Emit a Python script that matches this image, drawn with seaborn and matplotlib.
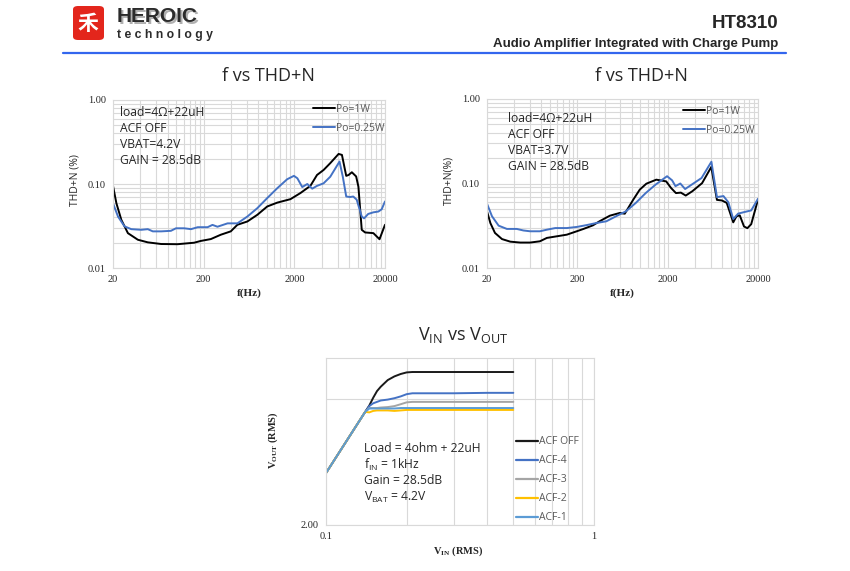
import matplotlib
matplotlib.use("Agg")
import numpy as np
import pandas as pd
import matplotlib.pyplot as plt
from matplotlib.lines import Line2D
from matplotlib.patches import FancyBboxPatch
from matplotlib.ticker import FixedLocator, NullFormatter
import seaborn as sns

# f vs THD+N, VBAT = 4.2V
freq_1w_42 = [20, 21.8, 24.7, 29.2, 37.6, 48.4, 68, 103, 157, 186, 240, 309, 398, 471, 607,
              782, 1005, 1295, 1812, 2333, 3006, 3557, 4208, 4979, 6157, 6700, 7470, 7930,
              8620, 9610, 10180, 11080, 12060, 14890, 16900, 17400, 20000]
thd_1w_42 = [0.095, 0.059, 0.0375, 0.026, 0.0217, 0.0202, 0.0193, 0.0192, 0.020, 0.021, 0.0221,
             0.0249, 0.0273, 0.0327, 0.0358, 0.043, 0.054, 0.060, 0.066, 0.078, 0.095, 0.128,
             0.147, 0.177, 0.228, 0.222, 0.125, 0.128, 0.138, 0.123, 0.093, 0.0285, 0.0265,
             0.026, 0.0227, 0.022, 0.0327]
freq_025w_42 = [20, 22.7, 26.8, 31.8, 41, 48.4, 55, 68, 87, 99, 122, 145, 172, 221, 250, 284,
                367, 471, 607, 782, 1005, 1295, 1668, 1980, 2160, 2445, 2780, 3150, 3557, 4208,
                4979, 6300, 6850, 7470, 8240, 8930, 9750, 11080, 11760, 13050, 14890, 16900,
                18380, 20000]
thd_025w_42 = [0.059, 0.041, 0.0313, 0.029, 0.0285, 0.029, 0.0273, 0.0273, 0.0277, 0.0297,
               0.0297, 0.029, 0.0306, 0.0306, 0.0326, 0.031, 0.034, 0.034, 0.041, 0.0516,
               0.068, 0.089, 0.114, 0.125, 0.117, 0.092, 0.100, 0.088, 0.095, 0.102, 0.122,
               0.185, 0.122, 0.071, 0.070, 0.071, 0.065, 0.041, 0.039, 0.044, 0.046, 0.047,
               0.050, 0.062]

# f vs THD+N, VBAT = 3.7V
freq_1w_37 = [20, 21.8, 24.5, 29.3, 36.2, 46.7, 60, 77, 92, 118, 153, 197, 234, 298, 352, 458,
              590, 670, 829, 982, 1162, 1497, 1925, 2180, 2470, 2800, 3170, 3750, 4810, 6080,
              7020, 7960, 9010, 10640, 11560, 12560, 14000, 15250, 16820, 20000]
thd_1w_37 = [0.0469, 0.034, 0.026, 0.022, 0.0205, 0.020, 0.020, 0.0207, 0.0227, 0.0237, 0.0248,
             0.0272, 0.029, 0.032, 0.0357, 0.0416, 0.0448, 0.0439, 0.064, 0.0846, 0.0995,
             0.111, 0.106, 0.0885, 0.077, 0.078, 0.072, 0.081, 0.101, 0.157, 0.064, 0.063,
             0.059, 0.0347, 0.041, 0.042, 0.031, 0.0296, 0.033, 0.0645]
freq_025w_37 = [20, 22.7, 26.9, 33.2, 42.7, 50.6, 60, 77, 92, 114, 153, 197, 254, 326, 419,
                538, 691, 889, 1142, 1470, 1970, 2240, 2440, 2760, 3120, 3690, 4740, 6100,
                7020, 8290, 9390, 10640, 12050, 14200, 16820, 20000]
thd_025w_37 = [0.0577, 0.041, 0.0317, 0.029, 0.029, 0.0278, 0.0272, 0.0272, 0.0284, 0.0297,
               0.0297, 0.0306, 0.0322, 0.0341, 0.0357, 0.041, 0.0469, 0.059, 0.077, 0.097,
               0.122, 0.109, 0.093, 0.100, 0.086, 0.097, 0.116, 0.181, 0.069, 0.071, 0.060,
               0.038, 0.044, 0.046, 0.048, 0.066]

# VIN vs VOUT
vin = [0.10, 0.12, 0.14, 0.145, 0.15, 0.155, 0.16, 0.17, 0.18, 0.19, 0.20, 0.21, 0.25, 0.30, 0.40, 0.50]
vout_acf_off = [2.66, 3.19, 3.72, 3.85, 4.02, 4.17, 4.27, 4.43, 4.52, 4.58, 4.62, 4.63, 4.63, 4.63, 4.63, 4.63]
vout_acf_4 = [2.66, 3.19, 3.72, 3.84, 3.90, 3.93, 3.96, 3.98, 4.01, 4.05, 4.10, 4.12, 4.12, 4.12, 4.13, 4.13]
vout_acf_3 = [2.66, 3.19, 3.72, 3.80, 3.80, 3.80, 3.81, 3.82, 3.84, 3.88, 3.92, 3.93, 3.93, 3.93, 3.93, 3.93]
vout_acf_2 = [2.66, 3.19, 3.72, 3.71, 3.74, 3.75, 3.75, 3.75, 3.74, 3.75, 3.76, 3.76, 3.76, 3.76, 3.76, 3.76]
vout_acf_1 = [2.66, 3.19, 3.72, 3.79, 3.79, 3.79, 3.79, 3.79, 3.79, 3.80, 3.80, 3.80, 3.80, 3.80, 3.80, 3.80]

po_labels = ["Po=1W", "Po=0.25W"]
po_colors = {"Po=1W": "#000000", "Po=0.25W": "#4472c4"}
acf_labels = ["ACF OFF", "ACF-4", "ACF-3", "ACF-2", "ACF-1"]
acf_colors = {"ACF OFF": "#1a1a1a", "ACF-4": "#4472c4", "ACF-3": "#a5a5a5",
              "ACF-2": "#ffc000", "ACF-1": "#5b9bd5"}

sns.set_style("white")
plt.rcParams["font.family"] = ["Open Sans", "DejaVu Sans"]

W, H = 850, 571
fig = plt.figure(figsize=(W / 100, H / 100), dpi=100)


def px_rect(left, top, right, bottom):
    return [left / W, 1 - bottom / H, (right - left) / W, (bottom - top) / H]


def fx(x):
    return x / W


def fy(y):
    return 1 - y / H


GRID = "#d9d9d9"
SERIF = "Liberation Serif"
LABEL_GRAY = "#595959"

# ---- header ----
fig.add_artist(FancyBboxPatch((fx(73), fy(40)), 31 / W, 34 / H, boxstyle="round,pad=0,rounding_size=0.006",
                              transform=fig.transFigure, facecolor="#e3261c", edgecolor="none"))
fig.text(fx(88), fy(23), "禾", color="white", fontsize=15, ha="center", va="center",
         family=["Noto Sans CJK SC"], fontweight="bold")
fig.text(fx(118.5), fy(18), "HEROIC", fontsize=15, fontweight="bold", color="#b0b0b0",
         ha="left", va="center", family=["Liberation Sans"])
fig.text(fx(117), fy(17), "HEROIC", fontsize=15, fontweight="bold", color="#2b2b2b",
         ha="left", va="center", family=["Liberation Sans"])
fig.text(fx(117), fy(35), "t e c h n o l o g y", fontsize=8.8, fontweight="bold", color="#2b2b2b",
         ha="left", va="center", family=["Liberation Sans"])
fig.add_artist(Line2D([fx(63), fx(786)], [fy(53), fy(53)], color="#3366ee", lw=1.6,
                      transform=fig.transFigure))
fig.text(fx(778), fy(24), "HT8310", fontsize=13.5, fontweight="bold", ha="right", va="center",
         family=["Liberation Sans"])
fig.text(fx(778), fy(44), "Audio Amplifier Integrated with Charge Pump", fontsize=9.5,
         fontweight="bold", ha="right", va="center", family=["Liberation Sans"])


# ---- f vs THD+N panels ----
def thd_panel(rect, f1, t1, f2, t2, vbat, ylabel, title_x, legend_xy, note_xy):
    ax = fig.add_axes(rect)
    df = pd.concat([
        pd.DataFrame({"freq": f1, "thd": t1, "series": "Po=1W"}),
        pd.DataFrame({"freq": f2, "thd": t2, "series": "Po=0.25W"}),
    ])
    sns.lineplot(data=df, x="freq", y="thd", hue="series", hue_order=po_labels,
                 palette=po_colors, estimator=None, sort=True, linewidth=1.4,
                 legend=False, ax=ax)
    ax.set_xscale("log")
    ax.set_yscale("log")
    ax.set_xlim(20, 20000)
    ax.set_ylim(0.01, 1)
    ax.xaxis.set_major_locator(FixedLocator([20, 200, 2000, 20000]))
    ax.xaxis.set_minor_locator(FixedLocator([d * k for d in (20, 200, 2000) for k in range(2, 10)]))
    ax.set_xticklabels(["20", "200", "2000", "20000"])
    ax.xaxis.set_minor_formatter(NullFormatter())
    ax.yaxis.set_major_locator(FixedLocator([0.01, 0.1, 1]))
    ax.yaxis.set_minor_locator(FixedLocator([d * k for d in (0.01, 0.1) for k in range(2, 10)]))
    ax.set_yticklabels(["0.01", "0.10", "1.00"])
    ax.yaxis.set_minor_formatter(NullFormatter())
    ax.grid(True, which="both", color=GRID, lw=0.8)
    ax.tick_params(which="both", length=0, labelsize=7.5, pad=5)
    for lab in ax.get_xticklabels() + ax.get_yticklabels():
        lab.set_family(SERIF)
    for s in ax.spines.values():
        s.set_color(GRID)
        s.set_linewidth(0.8)
    ax.set_xlabel("")
    ax.set_ylabel("")
    fig.text(fx((rect[0] + rect[2] / 2) * W), fy(293), "f(Hz)", family=SERIF, fontweight="bold",
             fontsize=8, ha="center", va="center")
    fig.text(fx(rect[0] * W - 38), fy(180), ylabel, rotation=90, fontsize=7.5, ha="center", va="center")
    fig.text(fx(title_x), fy(76), "f vs THD+N", fontsize=13, ha="center", va="center")
    handles = [Line2D([], [], color=po_colors[l], lw=1.4) for l in po_labels]
    ax.legend(handles, po_labels, loc="upper left", frameon=False, fontsize=7.5,
              labelcolor=LABEL_GRAY, handlelength=2.1, handletextpad=0.15, labelspacing=0.75,
              borderpad=0, borderaxespad=0,
              bbox_to_anchor=(fx(legend_xy[0]), fy(legend_xy[1])), bbox_transform=fig.transFigure)
    notes = ["load=4Ω+22uH", "ACF OFF", "VBAT=" + vbat, "GAIN = 28.5dB"]
    for i, t in enumerate(notes):
        fig.text(fx(note_xy[0]), fy(note_xy[1] + 16 * i), t, fontsize=8.7, ha="left", va="center")
    return ax


thd_panel(px_rect(113, 100, 385, 268), freq_1w_42, thd_1w_42, freq_025w_42, thd_025w_42,
          "4.2V", "THD+N (%)", 268, (313, 104), (120, 113))
thd_panel(px_rect(487, 99, 758, 268), freq_1w_37, thd_1w_37, freq_025w_37, thd_025w_37,
          "3.7V", "THD+N(%)", 641, (683, 106), (508, 118))

# ---- VIN vs VOUT ----
ax = fig.add_axes(px_rect(326, 358, 594, 525))
vdf = pd.concat([
    pd.DataFrame({"vin": vin, "vout": v, "mode": m})
    for m, v in zip(acf_labels, [vout_acf_off, vout_acf_4, vout_acf_3, vout_acf_2, vout_acf_1])
])
sns.lineplot(data=vdf, x="vin", y="vout", hue="mode", hue_order=acf_labels, palette=acf_colors,
             estimator=None, sort=True, linewidth=1.4, legend=False, ax=ax)
ax.set_xscale("log")
ax.set_yscale("log", base=2)
ax.set_xlim(0.1, 1)
ax.set_ylim(2, 5)
ax.xaxis.set_major_locator(FixedLocator([0.1, 1]))
ax.xaxis.set_minor_locator(FixedLocator([0.1 * k for k in range(2, 10)]))
ax.set_xticklabels(["0.1", "1"])
ax.xaxis.set_minor_formatter(NullFormatter())
ax.yaxis.set_major_locator(FixedLocator([2, 4]))
ax.yaxis.set_minor_locator(FixedLocator([]))
ax.set_yticklabels(["2.00", ""])
ax.grid(True, which="both", color=GRID, lw=0.8)
ax.tick_params(which="both", length=0, labelsize=7.5, pad=5)
for lab in ax.get_xticklabels() + ax.get_yticklabels():
    lab.set_family(SERIF)
for s in ax.spines.values():
    s.set_color(GRID)
    s.set_linewidth(0.8)
ax.set_xlabel("")
ax.set_ylabel("")
handles = [Line2D([], [], color=acf_colors[l], lw=1.6) for l in acf_labels]
ax.legend(handles, acf_labels, loc="upper left", frameon=False, fontsize=7.5,
          labelcolor=LABEL_GRAY, handlelength=2.1, handletextpad=0.15, labelspacing=0.76,
          borderpad=0, borderaxespad=0,
          bbox_to_anchor=(fx(516), fy(436.5)), bbox_transform=fig.transFigure)
notes = [r"Load = 4ohm + 22uH", r"f$_{\mathregular{IN}}$ = 1kHz", r"Gain = 28.5dB",
         r"V$_{\mathregular{BAT}}$ = 4.2V"]
for i, t in enumerate(notes):
    fig.text(fx(364), fy(448 + 16.5 * i), t, fontsize=8.7, ha="left", va="center")
fig.text(fx(463), fy(335), r"V$_{\mathregular{IN}}$ vs V$_{\mathregular{OUT}}$", fontsize=13,
         ha="center", va="center")
fig.text(fx(458), fy(551), r"V$_{\mathregular{IN}}$ (RMS)", family=SERIF, fontweight="bold",
         fontsize=7.5, ha="center", va="center")
fig.text(fx(273), fy(440), r"V$_{\mathregular{OUT}}$ (RMS)", family=SERIF, fontweight="bold",
         fontsize=7.5, ha="center", va="center", rotation=90)

fig.savefig("out.png", dpi=100)
